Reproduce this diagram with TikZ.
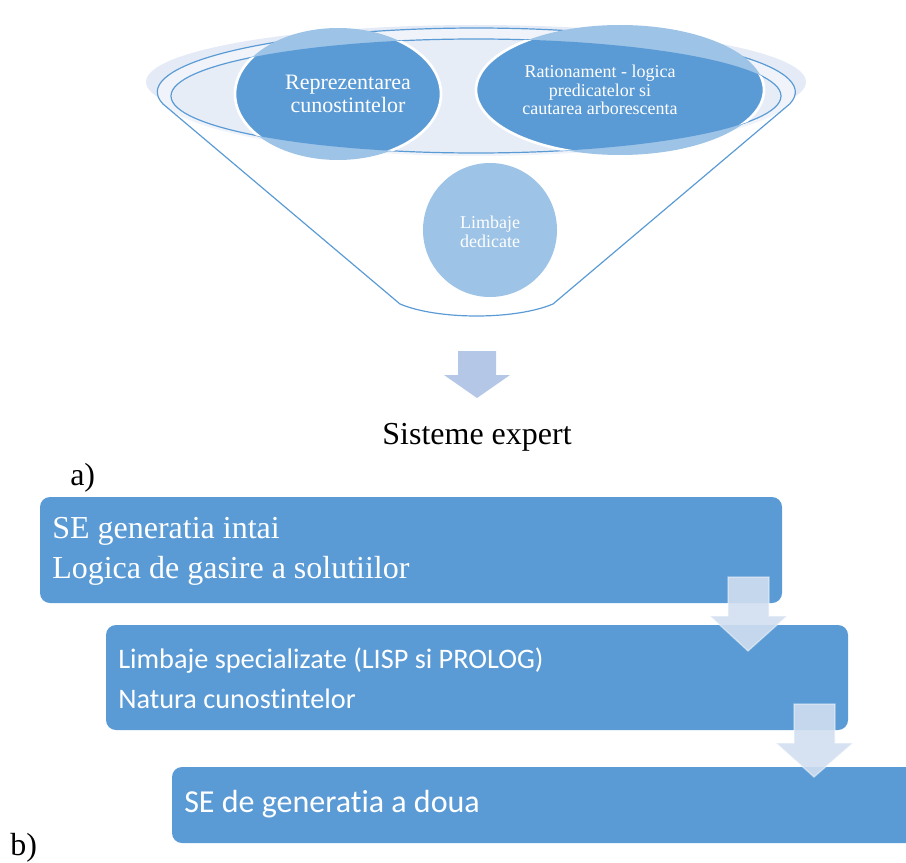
\documentclass[tikz,border=0pt]{standalone}
\usepackage{fontspec}
\setmainfont{Liberation Serif}
\newfontfamily\calib[RawFeature={-liga}]{Carlito}
\definecolor{accent}{HTML}{5B9BD5}
\definecolor{accentlt}{HTML}{9DC3E6}
\definecolor{halo}{HTML}{E4EBF6}
\definecolor{band}{HTML}{F0F4FA}
\definecolor{innerfill}{HTML}{E7EDF7}
\definecolor{bigarrow}{HTML}{B4C7E7}
\definecolor{flowarrow}{RGB}{209,222,239}
\tikzset{
  funnelline/.style={draw=accent, line width=0.9pt},
  bubble/.style={fill=accent, draw=white, line width=2pt},
  bubbletext/.style={text=white, align=center, inner sep=0pt},
  stagebox/.style={fill=accent, rounded corners=7.5pt},
  stagetext/.style={text=white, anchor=base west, inner sep=0pt},
  flowarrowstyle/.style={fill=flowarrow, fill opacity=0.9, draw=white, draw opacity=0.45, line width=1pt},
}
\begin{document}
\begin{tikzpicture}[x=0.75pt,y=-0.75pt]
\useasboundingbox (0,0) rectangle (906,863);

% ---- funnel: halo, rim and cone ----
\fill[halo] (476,82) ellipse [x radius=330, y radius=57];
\fill[band] (476,92) ellipse [x radius=319, y radius=64];
\coordinate (kl) at (163,104);
\coordinate (kr) at (789,104);
\coordinate (bl) at (400,304);
\coordinate (br) at (553,304);
\draw[funnelline] (kl) arc[start angle=169.2, end angle=370.8, x radius=319, y radius=64]
  -- (br) .. controls (515,320) and (438,320) .. (bl) -- cycle;
\filldraw[fill=innerfill, funnelline] (476,96) ellipse [x radius=305, y radius=57];

% ---- the two upper bubbles: light outside the rim, dark inside ----
\fill[accentlt] (338,94) ellipse [x radius=103, y radius=66];
\fill[accentlt] (620,90) ellipse [x radius=144, y radius=65];
\begin{scope}
  \clip (476,96) ellipse [x radius=305, y radius=57];
  \path[bubble] (338,94) ellipse [x radius=103, y radius=66];
  \path[bubble] (620,90) ellipse [x radius=144, y radius=65];
\end{scope}
\node[bubbletext, font=\fontsize{16.5}{16.8}\selectfont] (rep) at (348,94) {Reprezentarea\\cunostintelor};
\node[bubbletext, font=\fontsize{13.5}{14}\selectfont] (rat) at (600,90) {Rationament - logica\\predicatelor si\\cautarea arborescenta};

% ---- lower bubble ----
\fill[accentlt] (490,230) ellipse [x radius=67, y radius=67];
\node[bubbletext, font=\fontsize{13.5}{14}\selectfont] (lim) at (490,232) {Limbaje\\dedicate};

% ---- result arrow and caption ----
\fill[bigarrow] (458,351) -- (496,351) -- (496,375) -- (510,375) -- (477,398) -- (444,375) -- (458,375) -- cycle;
\node[anchor=base, inner sep=0pt, font=\fontsize{24}{28}\selectfont] (se) at (477,444) {Sisteme expert};
\node[anchor=base west, inner sep=0pt, font=\fontsize{24}{28}\selectfont] (la) at (70,485) {a)};

% ---- stages ----
\path[stagebox] (40,497) rectangle (782,603);
\path[stagebox] (106,625) rectangle (848,730);
\path[stagebox] (172,767) rectangle (930,843);

\node[stagetext, font=\fontsize{24}{28}\selectfont] (t1a) at (52,538) {SE generatia intai};
\node[stagetext, font=\fontsize{24}{28}\selectfont] (t1b) at (52,578) {Logica de gasire a solutiilor};
\node[stagetext, font=\calib\fontsize{21.2}{24}\selectfont] (t2a) at (118,668) {Limbaje specializate (LISP si PROLOG)};
\node[stagetext, font=\calib\fontsize{21.2}{24}\selectfont] (t2b) at (118,708) {Natura cunostintelor};
\node[stagetext, font=\calib\fontsize{24}{28}\selectfont] (t3) at (184,812) {SE de generatia a doua};

\path[flowarrowstyle] (728,577) -- (769,577) -- (769,616) -- (787,616) -- (748,651) -- (710,616) -- (728,616) -- cycle;
\path[flowarrowstyle] (794,704) -- (835,704) -- (835,743) -- (853,743) -- (814,777) -- (776,743) -- (794,743) -- cycle;

\node[anchor=base west, inner sep=0pt, font=\fontsize{24}{28}\selectfont] (lb) at (10,855) {b)};
\end{tikzpicture}
\end{document}
